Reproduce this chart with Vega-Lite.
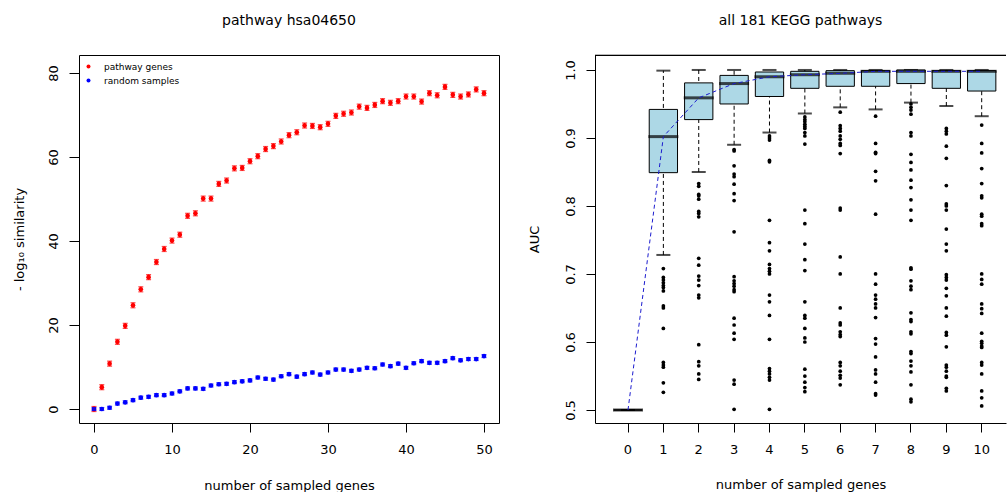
{
  "$schema": "https://vega.github.io/schema/vega-lite/v6.json",
  "padding": {"left": 12, "top": 13, "right": 0, "bottom": 0},
  "background": "white",
  "spacing": 28,
  "config": {
    "font": "DejaVu Sans",
    "view": {"stroke": "black", "strokeWidth": 1},
    "axis": {"grid": false, "domain": false, "tickColor": "black", "labelColor": "black", "titleColor": "black", "labelFontSize": 13, "titleFontSize": 13, "titleFontWeight": "normal", "labelFont": "DejaVu Sans", "titleFont": "DejaVu Sans", "tickSize": 9, "domainColor": "black"},
    "title": {"fontSize": 14, "fontWeight": "normal", "color": "black", "font": "DejaVu Sans"}
  },
  "datasets": {
    "sim": [
      {"k":0,"series":"pathway genes","v":0,"lo":-0.6,"hi":0.6},
      {"k":1,"series":"pathway genes","v":5.2,"lo":4.6,"hi":5.8},
      {"k":2,"series":"pathway genes","v":10.8,"lo":10.2,"hi":11.4},
      {"k":3,"series":"pathway genes","v":16.0,"lo":15.4,"hi":16.6},
      {"k":4,"series":"pathway genes","v":19.8,"lo":19.2,"hi":20.4},
      {"k":5,"series":"pathway genes","v":24.7,"lo":24.1,"hi":25.3},
      {"k":6,"series":"pathway genes","v":28.5,"lo":27.9,"hi":29.1},
      {"k":7,"series":"pathway genes","v":31.4,"lo":30.8,"hi":32.0},
      {"k":8,"series":"pathway genes","v":35.0,"lo":34.4,"hi":35.6},
      {"k":9,"series":"pathway genes","v":38.1,"lo":37.5,"hi":38.7},
      {"k":10,"series":"pathway genes","v":40.1,"lo":39.5,"hi":40.7},
      {"k":11,"series":"pathway genes","v":41.5,"lo":40.9,"hi":42.1},
      {"k":12,"series":"pathway genes","v":46.0,"lo":45.4,"hi":46.6},
      {"k":13,"series":"pathway genes","v":46.6,"lo":46.0,"hi":47.2},
      {"k":14,"series":"pathway genes","v":50.1,"lo":49.5,"hi":50.7},
      {"k":15,"series":"pathway genes","v":50.1,"lo":49.5,"hi":50.7},
      {"k":16,"series":"pathway genes","v":53.6,"lo":53.0,"hi":54.2},
      {"k":17,"series":"pathway genes","v":54.4,"lo":53.8,"hi":55.0},
      {"k":18,"series":"pathway genes","v":57.3,"lo":56.7,"hi":57.9},
      {"k":19,"series":"pathway genes","v":57.4,"lo":56.8,"hi":58.0},
      {"k":20,"series":"pathway genes","v":59.0,"lo":58.4,"hi":59.6},
      {"k":21,"series":"pathway genes","v":60.2,"lo":59.6,"hi":60.8},
      {"k":22,"series":"pathway genes","v":61.9,"lo":61.3,"hi":62.5},
      {"k":23,"series":"pathway genes","v":62.6,"lo":62.0,"hi":63.2},
      {"k":24,"series":"pathway genes","v":63.7,"lo":63.1,"hi":64.3},
      {"k":25,"series":"pathway genes","v":65.2,"lo":64.6,"hi":65.8},
      {"k":26,"series":"pathway genes","v":65.9,"lo":65.3,"hi":66.5},
      {"k":27,"series":"pathway genes","v":67.5,"lo":66.9,"hi":68.1},
      {"k":28,"series":"pathway genes","v":67.4,"lo":66.8,"hi":68.0},
      {"k":29,"series":"pathway genes","v":67.1,"lo":66.5,"hi":67.7},
      {"k":30,"series":"pathway genes","v":67.9,"lo":67.3,"hi":68.5},
      {"k":31,"series":"pathway genes","v":69.8,"lo":69.2,"hi":70.4},
      {"k":32,"series":"pathway genes","v":70.3,"lo":69.7,"hi":70.9},
      {"k":33,"series":"pathway genes","v":70.6,"lo":70.0,"hi":71.2},
      {"k":34,"series":"pathway genes","v":72.0,"lo":71.4,"hi":72.6},
      {"k":35,"series":"pathway genes","v":71.7,"lo":71.1,"hi":72.3},
      {"k":36,"series":"pathway genes","v":72.4,"lo":71.8,"hi":73.0},
      {"k":37,"series":"pathway genes","v":73.3,"lo":72.7,"hi":73.9},
      {"k":38,"series":"pathway genes","v":72.9,"lo":72.3,"hi":73.5},
      {"k":39,"series":"pathway genes","v":73.3,"lo":72.7,"hi":73.9},
      {"k":40,"series":"pathway genes","v":74.4,"lo":73.8,"hi":75.0},
      {"k":41,"series":"pathway genes","v":74.4,"lo":73.8,"hi":75.0},
      {"k":42,"series":"pathway genes","v":73.2,"lo":72.6,"hi":73.8},
      {"k":43,"series":"pathway genes","v":75.2,"lo":74.6,"hi":75.8},
      {"k":44,"series":"pathway genes","v":74.7,"lo":74.1,"hi":75.3},
      {"k":45,"series":"pathway genes","v":76.7,"lo":76.1,"hi":77.3},
      {"k":46,"series":"pathway genes","v":74.8,"lo":74.2,"hi":75.4},
      {"k":47,"series":"pathway genes","v":74.4,"lo":73.8,"hi":75.0},
      {"k":48,"series":"pathway genes","v":74.9,"lo":74.3,"hi":75.5},
      {"k":49,"series":"pathway genes","v":76.1,"lo":75.5,"hi":76.7},
      {"k":50,"series":"pathway genes","v":75.2,"lo":74.6,"hi":75.8},
      {"k":0,"series":"random samples","v":0,"lo":-0.35,"hi":0.35},
      {"k":1,"series":"random samples","v":0,"lo":-0.35,"hi":0.35},
      {"k":2,"series":"random samples","v":0.3,"lo":-0.05,"hi":0.65},
      {"k":3,"series":"random samples","v":1.3,"lo":0.95,"hi":1.65},
      {"k":4,"series":"random samples","v":1.6,"lo":1.25,"hi":1.95},
      {"k":5,"series":"random samples","v":2.1,"lo":1.75,"hi":2.45},
      {"k":6,"series":"random samples","v":2.7,"lo":2.35,"hi":3.05},
      {"k":7,"series":"random samples","v":2.9,"lo":2.55,"hi":3.25},
      {"k":8,"series":"random samples","v":3.3,"lo":2.95,"hi":3.65},
      {"k":9,"series":"random samples","v":3.3,"lo":2.95,"hi":3.65},
      {"k":10,"series":"random samples","v":3.7,"lo":3.35,"hi":4.05},
      {"k":11,"series":"random samples","v":4.2,"lo":3.85,"hi":4.55},
      {"k":12,"series":"random samples","v":4.9,"lo":4.55,"hi":5.25},
      {"k":13,"series":"random samples","v":4.9,"lo":4.55,"hi":5.25},
      {"k":14,"series":"random samples","v":4.8,"lo":4.45,"hi":5.15},
      {"k":15,"series":"random samples","v":5.6,"lo":5.25,"hi":5.95},
      {"k":16,"series":"random samples","v":5.9,"lo":5.55,"hi":6.25},
      {"k":17,"series":"random samples","v":6.0,"lo":5.65,"hi":6.35},
      {"k":18,"series":"random samples","v":6.4,"lo":6.05,"hi":6.75},
      {"k":19,"series":"random samples","v":6.6,"lo":6.25,"hi":6.95},
      {"k":20,"series":"random samples","v":6.8,"lo":6.45,"hi":7.15},
      {"k":21,"series":"random samples","v":7.5,"lo":7.15,"hi":7.85},
      {"k":22,"series":"random samples","v":7.2,"lo":6.85,"hi":7.55},
      {"k":23,"series":"random samples","v":7.0,"lo":6.65,"hi":7.35},
      {"k":24,"series":"random samples","v":7.8,"lo":7.45,"hi":8.15},
      {"k":25,"series":"random samples","v":8.3,"lo":7.95,"hi":8.65},
      {"k":26,"series":"random samples","v":7.7,"lo":7.35,"hi":8.05},
      {"k":27,"series":"random samples","v":8.3,"lo":7.95,"hi":8.65},
      {"k":28,"series":"random samples","v":8.7,"lo":8.35,"hi":9.05},
      {"k":29,"series":"random samples","v":8.2,"lo":7.85,"hi":8.55},
      {"k":30,"series":"random samples","v":8.7,"lo":8.35,"hi":9.05},
      {"k":31,"series":"random samples","v":9.4,"lo":9.05,"hi":9.75},
      {"k":32,"series":"random samples","v":9.4,"lo":9.05,"hi":9.75},
      {"k":33,"series":"random samples","v":9.1,"lo":8.75,"hi":9.45},
      {"k":34,"series":"random samples","v":9.4,"lo":9.05,"hi":9.75},
      {"k":35,"series":"random samples","v":9.8,"lo":9.45,"hi":10.15},
      {"k":36,"series":"random samples","v":9.7,"lo":9.35,"hi":10.05},
      {"k":37,"series":"random samples","v":10.6,"lo":10.25,"hi":10.95},
      {"k":38,"series":"random samples","v":10.2,"lo":9.85,"hi":10.55},
      {"k":39,"series":"random samples","v":10.8,"lo":10.45,"hi":11.15},
      {"k":40,"series":"random samples","v":9.8,"lo":9.45,"hi":10.15},
      {"k":41,"series":"random samples","v":10.9,"lo":10.55,"hi":11.25},
      {"k":42,"series":"random samples","v":11.4,"lo":11.05,"hi":11.75},
      {"k":43,"series":"random samples","v":11.0,"lo":10.65,"hi":11.35},
      {"k":44,"series":"random samples","v":11.0,"lo":10.65,"hi":11.35},
      {"k":45,"series":"random samples","v":11.4,"lo":11.05,"hi":11.75},
      {"k":46,"series":"random samples","v":12.1,"lo":11.75,"hi":12.45},
      {"k":47,"series":"random samples","v":11.6,"lo":11.25,"hi":11.95},
      {"k":48,"series":"random samples","v":11.9,"lo":11.55,"hi":12.25},
      {"k":49,"series":"random samples","v":11.9,"lo":11.55,"hi":12.25},
      {"k":50,"series":"random samples","v":12.6,"lo":12.25,"hi":12.95}
    ],
    "box": [
      {"k":0,"wlo":0.5,"q1":0.5,"med":0.5,"q3":0.5,"whi":0.5},
      {"k":1,"wlo":0.728,"q1":0.849,"med":0.902,"q3":0.942,"whi":0.999},
      {"k":2,"wlo":0.850,"q1":0.927,"med":0.959,"q3":0.981,"whi":1.0},
      {"k":3,"wlo":0.890,"q1":0.950,"med":0.980,"q3":0.992,"whi":1.0},
      {"k":4,"wlo":0.908,"q1":0.961,"med":0.990,"q3":0.997,"whi":1.0},
      {"k":5,"wlo":0.936,"q1":0.973,"med":0.993,"q3":0.998,"whi":1.0},
      {"k":6,"wlo":0.945,"q1":0.976,"med":0.995,"q3":0.999,"whi":1.0},
      {"k":7,"wlo":0.942,"q1":0.976,"med":0.998,"q3":0.999,"whi":1.0},
      {"k":8,"wlo":0.952,"q1":0.980,"med":0.998,"q3":1.0,"whi":1.0},
      {"k":9,"wlo":0.947,"q1":0.973,"med":0.998,"q3":0.999,"whi":1.0},
      {"k":10,"wlo":0.932,"q1":0.969,"med":0.998,"q3":0.999,"whi":1.0}
    ],
    "outl": [
      {"k":1,"v":0.708},{"k":1,"v":0.695},{"k":1,"v":0.691},{"k":1,"v":0.687},{"k":1,"v":0.683},{"k":1,"v":0.680},{"k":1,"v":0.675},{"k":1,"v":0.653},{"k":1,"v":0.650},{"k":1,"v":0.620},{"k":1,"v":0.570},{"k":1,"v":0.566},{"k":1,"v":0.563},{"k":1,"v":0.540},{"k":1,"v":0.526},
      {"k":2,"v":0.833},{"k":2,"v":0.829},{"k":2,"v":0.817},{"k":2,"v":0.815},{"k":2,"v":0.810},{"k":2,"v":0.792},{"k":2,"v":0.789},{"k":2,"v":0.784},{"k":2,"v":0.723},{"k":2,"v":0.713},{"k":2,"v":0.697},{"k":2,"v":0.691},{"k":2,"v":0.683},{"k":2,"v":0.669},{"k":2,"v":0.665},{"k":2,"v":0.596},{"k":2,"v":0.571},{"k":2,"v":0.565},{"k":2,"v":0.553},{"k":2,"v":0.545},
      {"k":3,"v":0.883},{"k":3,"v":0.881},{"k":3,"v":0.859},{"k":3,"v":0.847},{"k":3,"v":0.843},{"k":3,"v":0.832},{"k":3,"v":0.818},{"k":3,"v":0.808},{"k":3,"v":0.762},{"k":3,"v":0.696},{"k":3,"v":0.690},{"k":3,"v":0.686},{"k":3,"v":0.682},{"k":3,"v":0.677},{"k":3,"v":0.674},{"k":3,"v":0.635},{"k":3,"v":0.625},{"k":3,"v":0.613},{"k":3,"v":0.604},{"k":3,"v":0.544},{"k":3,"v":0.538},{"k":3,"v":0.501},
      {"k":4,"v":0.903},{"k":4,"v":0.900},{"k":4,"v":0.897},{"k":4,"v":0.867},{"k":4,"v":0.865},{"k":4,"v":0.779},{"k":4,"v":0.746},{"k":4,"v":0.734},{"k":4,"v":0.714},{"k":4,"v":0.708},{"k":4,"v":0.704},{"k":4,"v":0.700},{"k":4,"v":0.669},{"k":4,"v":0.659},{"k":4,"v":0.639},{"k":4,"v":0.604},{"k":4,"v":0.561},{"k":4,"v":0.557},{"k":4,"v":0.553},{"k":4,"v":0.548},{"k":4,"v":0.544},{"k":4,"v":0.501},
      {"k":5,"v":0.931},{"k":5,"v":0.927},{"k":5,"v":0.924},{"k":5,"v":0.920},{"k":5,"v":0.917},{"k":5,"v":0.914},{"k":5,"v":0.908},{"k":5,"v":0.903},{"k":5,"v":0.891},{"k":5,"v":0.794},{"k":5,"v":0.774},{"k":5,"v":0.744},{"k":5,"v":0.721},{"k":5,"v":0.705},{"k":5,"v":0.659},{"k":5,"v":0.639},{"k":5,"v":0.635},{"k":5,"v":0.620},{"k":5,"v":0.606},{"k":5,"v":0.600},{"k":5,"v":0.560},{"k":5,"v":0.550},{"k":5,"v":0.541},{"k":5,"v":0.533},{"k":5,"v":0.527},
      {"k":6,"v":0.938},{"k":6,"v":0.918},{"k":6,"v":0.914},{"k":6,"v":0.910},{"k":6,"v":0.903},{"k":6,"v":0.898},{"k":6,"v":0.892},{"k":6,"v":0.889},{"k":6,"v":0.877},{"k":6,"v":0.797},{"k":6,"v":0.794},{"k":6,"v":0.725},{"k":6,"v":0.700},{"k":6,"v":0.650},{"k":6,"v":0.628},{"k":6,"v":0.625},{"k":6,"v":0.615},{"k":6,"v":0.611},{"k":6,"v":0.608},{"k":6,"v":0.570},{"k":6,"v":0.565},{"k":6,"v":0.557},{"k":6,"v":0.551},{"k":6,"v":0.547},{"k":6,"v":0.537},
      {"k":7,"v":0.932},{"k":7,"v":0.892},{"k":7,"v":0.879},{"k":7,"v":0.877},{"k":7,"v":0.851},{"k":7,"v":0.837},{"k":7,"v":0.788},{"k":7,"v":0.700},{"k":7,"v":0.685},{"k":7,"v":0.669},{"k":7,"v":0.663},{"k":7,"v":0.656},{"k":7,"v":0.650},{"k":7,"v":0.636},{"k":7,"v":0.605},{"k":7,"v":0.597},{"k":7,"v":0.578},{"k":7,"v":0.559},{"k":7,"v":0.553},{"k":7,"v":0.541},{"k":7,"v":0.524},{"k":7,"v":0.522},
      {"k":8,"v":0.950},{"k":8,"v":0.945},{"k":8,"v":0.941},{"k":8,"v":0.935},{"k":8,"v":0.908},{"k":8,"v":0.903},{"k":8,"v":0.876},{"k":8,"v":0.864},{"k":8,"v":0.853},{"k":8,"v":0.838},{"k":8,"v":0.827},{"k":8,"v":0.809},{"k":8,"v":0.794},{"k":8,"v":0.779},{"k":8,"v":0.709},{"k":8,"v":0.707},{"k":8,"v":0.690},{"k":8,"v":0.682},{"k":8,"v":0.677},{"k":8,"v":0.643},{"k":8,"v":0.633},{"k":8,"v":0.630},{"k":8,"v":0.615},{"k":8,"v":0.612},{"k":8,"v":0.586},{"k":8,"v":0.583},{"k":8,"v":0.572},{"k":8,"v":0.565},{"k":8,"v":0.556},{"k":8,"v":0.537},{"k":8,"v":0.516},{"k":8,"v":0.512},
      {"k":9,"v":0.914},{"k":9,"v":0.910},{"k":9,"v":0.906},{"k":9,"v":0.888},{"k":9,"v":0.870},{"k":9,"v":0.830},{"k":9,"v":0.803},{"k":9,"v":0.800},{"k":9,"v":0.794},{"k":9,"v":0.766},{"k":9,"v":0.744},{"k":9,"v":0.734},{"k":9,"v":0.699},{"k":9,"v":0.695},{"k":9,"v":0.691},{"k":9,"v":0.679},{"k":9,"v":0.668},{"k":9,"v":0.650},{"k":9,"v":0.638},{"k":9,"v":0.614},{"k":9,"v":0.610},{"k":9,"v":0.593},{"k":9,"v":0.566},{"k":9,"v":0.563},{"k":9,"v":0.557},{"k":9,"v":0.550},{"k":9,"v":0.548},{"k":9,"v":0.532},{"k":9,"v":0.528},
      {"k":10,"v":0.919},{"k":10,"v":0.892},{"k":10,"v":0.878},{"k":10,"v":0.855},{"k":10,"v":0.833},{"k":10,"v":0.815},{"k":10,"v":0.812},{"k":10,"v":0.788},{"k":10,"v":0.785},{"k":10,"v":0.774},{"k":10,"v":0.771},{"k":10,"v":0.700},{"k":10,"v":0.692},{"k":10,"v":0.685},{"k":10,"v":0.656},{"k":10,"v":0.649},{"k":10,"v":0.642},{"k":10,"v":0.613},{"k":10,"v":0.601},{"k":10,"v":0.598},{"k":10,"v":0.594},{"k":10,"v":0.592},{"k":10,"v":0.570},{"k":10,"v":0.566},{"k":10,"v":0.553},{"k":10,"v":0.528},{"k":10,"v":0.518},{"k":10,"v":0.506}
    ]
  },
  "hconcat": [
    {
      "width": 420,
      "height": 368,
      "title": {"text": "pathway hsa04650", "offset": 27},
      "data": {"name": "sim"},
      "encoding": {
        "x": {"field": "k", "type": "quantitative", "scale": {"domain": [-1.923, 51.923], "nice": false, "zero": false}, "axis": {"values": [0, 10, 20, 30, 40, 50], "title": "number of sampled genes", "tickSize": 9, "labelPadding": 11, "titlePadding": 23}},
        "color": {"field": "series", "type": "nominal", "scale": {"domain": ["pathway genes", "random samples"], "range": ["#FF0000", "#0000FF"]}, "legend": {"orient": "none", "legendX": 5, "legendY": 7, "title": null, "labelFontSize": 9, "symbolSize": 16, "symbolType": "circle", "padding": 0, "rowPadding": 4, "labelOffset": 11, "symbolStrokeWidth": 0}}
      },
      "layer": [
        {"mark": {"type": "point", "filled": true, "size": 22, "opacity": 1}, "encoding": {"y": {"field": "v", "type": "quantitative", "scale": {"domain": [-3.33, 84.29], "nice": false, "zero": false}, "axis": {"values": [0, 20, 40, 60, 80], "labelAngle": -90, "title": "- log₁₀ similarity", "tickSize": 10, "labelPadding": 9, "titlePadding": 21}}}},
        {"mark": {"type": "rule", "strokeWidth": 1.5}, "encoding": {"y": {"field": "lo", "type": "quantitative"}, "y2": {"field": "hi"}}},
        {"mark": {"type": "tick", "orient": "horizontal", "size": 5, "thickness": 1.2}, "encoding": {"y": {"field": "lo", "type": "quantitative"}}},
        {"mark": {"type": "tick", "orient": "horizontal", "size": 5, "thickness": 1.2}, "encoding": {"y": {"field": "hi", "type": "quantitative"}}}
      ]
    },
    {
      "width": 411,
      "height": 368,
      "view": {"stroke": null},
      "title": {"text": "all 181 KEGG pathways", "offset": 27},
      "layer": [
        {
          "data": {"name": "box"},
          "mark": {"type": "rule", "strokeDash": [4, 3], "color": "black", "strokeWidth": 1},
          "encoding": {
            "x": {"field": "k", "type": "ordinal", "scale": {"type": "band", "paddingInner": 0.2, "paddingOuter": 0.41, "align": 0.65}, "axis": {"labelAngle": 0, "title": "number of sampled genes", "domain": true, "tickSize": 9, "labelPadding": 11, "titlePadding": 22}},
            "y": {"field": "wlo", "type": "quantitative", "scale": {"domain": [0.4809, 1.022], "nice": false, "zero": false}, "axis": {"values": [0.5, 0.6, 0.7, 0.8, 0.9, 1.0], "format": ".1f", "labelAngle": -90, "title": "AUC", "domain": true, "tickSize": 9, "labelPadding": 9, "titlePadding": 23}},
            "y2": {"field": "whi"}
          }
        },
        {
          "data": {"name": "box"},
          "mark": {"type": "rule", "color": "black", "strokeWidth": 1},
          "encoding": {"y": {"datum": 1.0213, "type": "quantitative"}}
        },
        {
          "data": {"name": "box"},
          "mark": {"type": "tick", "orient": "horizontal", "size": 14, "thickness": 2, "color": "black"},
          "encoding": {"x": {"field": "k", "type": "ordinal"}, "y": {"field": "wlo", "type": "quantitative"}}
        },
        {
          "data": {"name": "box"},
          "mark": {"type": "tick", "orient": "horizontal", "size": 14, "thickness": 2, "color": "black"},
          "encoding": {"x": {"field": "k", "type": "ordinal"}, "y": {"field": "whi", "type": "quantitative"}}
        },
        {
          "data": {"name": "box"},
          "mark": {"type": "bar", "fill": "#ADD8E6", "stroke": "black", "strokeWidth": 1},
          "encoding": {"x": {"field": "k", "type": "ordinal"}, "y": {"field": "q1", "type": "quantitative"}, "y2": {"field": "q3"}}
        },
        {
          "data": {"name": "box"},
          "mark": {"type": "tick", "orient": "horizontal", "size": 30, "thickness": 3, "color": "black"},
          "encoding": {"x": {"field": "k", "type": "ordinal"}, "y": {"field": "med", "type": "quantitative"}}
        },
        {
          "data": {"name": "box"},
          "mark": {"type": "line", "strokeDash": [4, 3], "color": "#1c1ccf", "strokeWidth": 1},
          "encoding": {"x": {"field": "k", "type": "ordinal"}, "y": {"field": "med", "type": "quantitative"}}
        },
        {
          "data": {"name": "outl"},
          "mark": {"type": "point", "filled": true, "size": 14, "color": "black", "opacity": 1},
          "encoding": {"x": {"field": "k", "type": "ordinal"}, "y": {"field": "v", "type": "quantitative"}}
        }
      ]
    }
  ]
}
